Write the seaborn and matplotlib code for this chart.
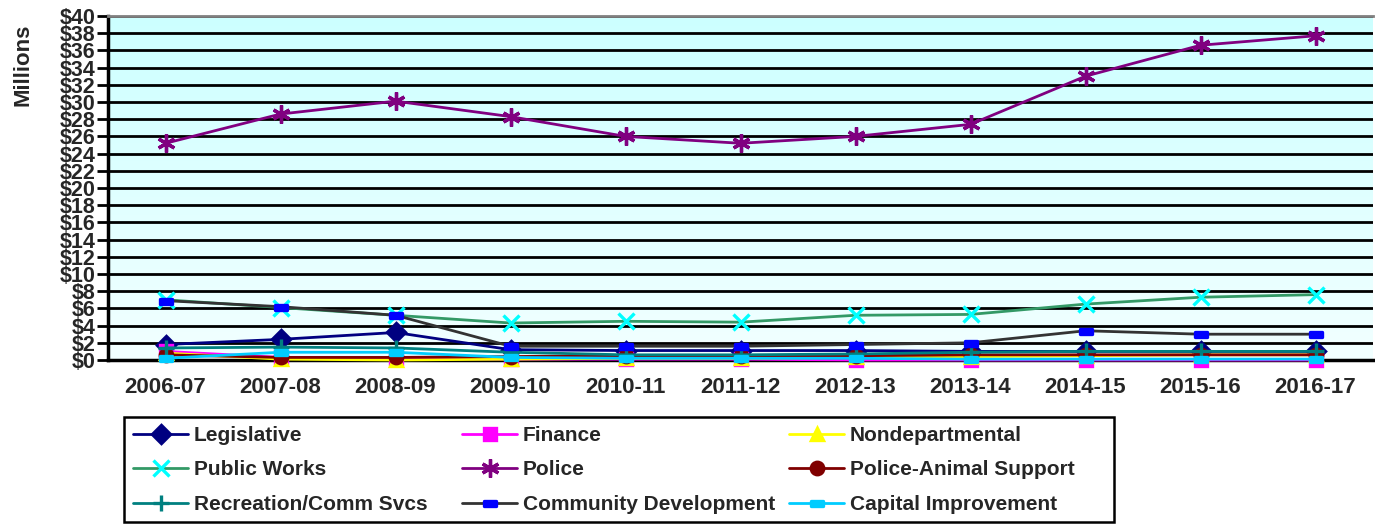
import numpy as np
import matplotlib
matplotlib.use("Agg")
import matplotlib.pyplot as plt
from matplotlib.path import Path
from matplotlib.patches import Rectangle
import seaborn as sns

years = ['2006-07', '2007-08', '2008-09', '2009-10', '2010-11', '2011-12',
         '2012-13', '2013-14', '2014-15', '2015-16', '2016-17']

legislative = [1.8, 2.4, 3.2, 1.2, 1.1, 1.1, 1.1, 1.0, 1.0, 1.0, 1.0]
finance = [1.0, 0.3, 0.2, 0.1, 0.1, 0.1, 0.0, 0.0, 0.0, 0.0, 0.0]
nondepartmental = [0.8, 0.1, 0.0, 0.1, 0.2, 0.2, 0.3, 0.4, 0.5, 0.6, 0.6]
public_works = [7.0, 6.1, 5.2, 4.3, 4.5, 4.4, 5.2, 5.3, 6.5, 7.3, 7.6]
police = [25.2, 28.6, 30.1, 28.3, 26.0, 25.2, 26.0, 27.4, 33.0, 36.6, 37.7]
animal_support = [0.6, 0.3, 0.3, 0.4, 0.5, 0.5, 0.5, 0.6, 0.6, 0.6, 0.6]
recreation = [1.4, 1.5, 1.4, 0.9, 0.6, 0.6, 0.7, 0.9, 1.0, 1.0, 1.0]
community_dev = [6.9, 6.2, 5.2, 1.6, 1.6, 1.6, 1.8, 2.0, 3.4, 3.0, 3.0]
capital = [0.2, 0.9, 0.9, 0.3, 0.2, 0.2, 0.2, 0.1, 0.1, 0.1, 0.1]

sns.set_style("white")
plt.rcParams['font.family'] = ['Liberation Sans', 'DejaVu Sans']

W, H = 1375, 524

# flat rectangle marker used by Excel for some series
flat = Path([(-1, -0.45), (1, -0.45), (1, 0.45), (-1, 0.45), (-1, -0.45)],
            [Path.MOVETO, Path.LINETO, Path.LINETO, Path.LINETO, Path.CLOSEPOLY])

series = [
    ('Legislative', legislative, '#000080', 'D', '#000080', '#000080', 9),
    ('Finance', finance, '#FF00FF', 's', '#FF00FF', '#FF00FF', 8),
    ('Nondepartmental', nondepartmental, '#FFFF00', '^', '#FFFF00', '#FFFF00', 9),
    ('Public Works', public_works, '#339966', 'x', '#00FFFF', '#00FFFF', 12),
    ('Police', police, '#800080', (6, 2, 0), '#800080', '#800080', 13),
    ('Police-Animal Support', animal_support, '#800000', 'o', '#800000', '#800000', 9),
    ('Recreation/Comm Svcs', recreation, '#008080', '+', '#008080', '#008080', 12),
    ('Community Development', community_dev, '#333333', flat, '#0000FF', '#0000FF', 8),
    ('Capital Improvement', capital, '#00CCFF', flat, '#00CCFF', '#00CCFF', 8),
]

fig = plt.figure(figsize=(W / 100, H / 100), dpi=100)
ax = fig.add_axes([108 / W, 1 - 360 / H, 1265 / W, 344 / H])

# light cyan gradient background
grad = np.linspace(0, 1, 256).reshape(-1, 1)
cmap = matplotlib.colors.LinearSegmentedColormap.from_list('bg', ['#CCFFFF', '#F2FFFF'])
ax.imshow(grad, extent=[0, 1, 0, 1], transform=ax.transAxes, cmap=cmap,
          aspect='auto', zorder=0)

for yv in range(0, 41, 2):
    ax.axhline(yv, color='black', lw=2, zorder=1)

xpos = np.arange(len(years))
for name, vals, lc, mk, mfc, mec, ms in series:
    sns.lineplot(x=xpos, y=vals, ax=ax, color=lc, marker=mk, markersize=ms,
                 markerfacecolor=mfc, markeredgecolor=mec, markeredgewidth=2.4,
                 linewidth=2, label=name, zorder=3, clip_on=False)

ax.set_xlim(-0.5, len(years) - 0.5)
ax.set_ylim(0, 40)
ax.set_xticks(xpos)
ax.set_xticklabels(years, fontsize=16, fontweight='bold')
ax.set_xticks(np.arange(-0.5, len(years), 1), minor=True)
ax.tick_params(axis='x', which='major', length=0, pad=12)
ax.tick_params(axis='x', which='minor', length=7, width=2, color='black')
ax.set_yticks(range(0, 41, 2))
ax.set_yticklabels(['$' + str(v) for v in range(0, 41, 2)], fontsize=15.5, fontweight='bold')
ax.tick_params(axis='y', length=8, width=2, color='black', pad=1, left=True)
ax.set_xlabel('')
ax.set_ylabel('')

for side in ['left', 'bottom']:
    ax.spines[side].set_color('black')
    ax.spines[side].set_linewidth(2.5)
ax.spines['top'].set_color('#808080')
ax.spines['top'].set_linewidth(2)
ax.spines['right'].set_visible(False)

fig.text(23 / W, 1 - 65 / H, 'Millions', rotation=90, fontsize=16,
         fontweight='bold', ha='center', va='center')

# legend: three columns of fixed width inside one frame, like Excel
ax.get_legend().remove()
h, l = ax.get_legend_handles_labels()
fig.patches.append(Rectangle((124 / W, 1 - 522 / H), 990 / W, 105 / H,
                             transform=fig.transFigure, facecolor='white',
                             edgecolor='black', linewidth=1.8, zorder=0))
col_x = [133, 462, 789]
for c in range(3):
    idx = [c, c + 3, c + 6]
    fig.legend([h[i] for i in idx], [l[i] for i in idx], ncol=1,
               loc='upper left', bbox_to_anchor=(col_x[c] / W, 1 - 426 / H),
               frameon=False, prop={'size': 15, 'weight': 'bold'},
               handlelength=2.65, handletextpad=0.28, labelspacing=0.74,
               borderpad=0, borderaxespad=0)

fig.savefig('out.png', dpi=100)
